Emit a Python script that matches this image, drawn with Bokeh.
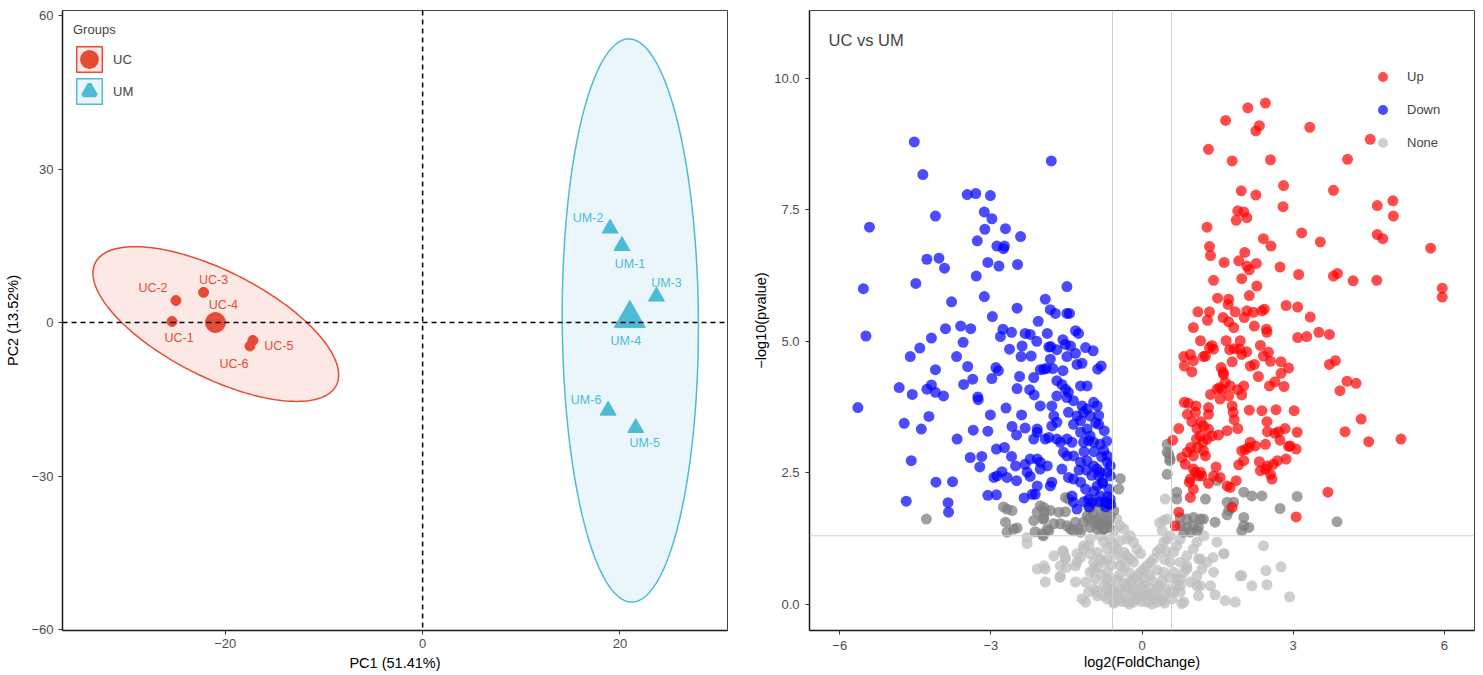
import numpy as np
from bokeh.plotting import figure
from bokeh.layouts import row
from bokeh.models import Span, Legend, LegendItem, FixedTicker, Label, Range1d
from bokeh.embed import file_html
from bokeh.resources import INLINE

FONT = "Liberation Sans"

# ---------------- PCA data ----------------
uc_names = ["UC-1", "UC-2", "UC-3", "UC-4", "UC-5", "UC-6"]
uc_pc1 = [-25.4, -25.0, -22.2, -21.0, -17.2, -17.5]
uc_pc2 = [0.2, 4.3, 5.9, 0.0, -3.5, -4.6]
um_names = ["UM-1", "UM-2", "UM-3", "UM-4", "UM-5", "UM-6"]
um_pc1 = [20.2, 19.0, 23.7, 21.0, 21.6, 18.8]
um_pc2 = [15.0, 18.4, 5.1, 0.8, -20.6, -17.2]
uc_centroid = [-21.0, 0.0]
um_centroid = [21.0, 0.8]
# confidence ellipses: centre and axis matrix (x = cx + a*cos t + b*sin t)
uc_ellipse_center = [-20.96, -0.29]
uc_ellipse_axes = [[12.21, -2.44], [-11.98, -9.23]]
um_ellipse_center = [21.05, 0.4]
um_ellipse_axes = [[6.9, -0.15], [0.0, 55.05]]
pc1_ticks = [-20, 0, 20]
pc2_ticks = [-60, -30, 0, 30, 60]

# label offsets (pixels, +y down) as placed by the repel layout
uc_label_dx = [7, -23, 10, 8, 26, -16]
uc_label_dy = [16, -13, -12, -18, 6, 18]
um_label_dx = [8, -22, 10, -4, 9, -22]
um_label_dy = [18, -10, -13, 23, 15, -11]

# ---------------- Volcano data ----------------
down_pts = [
    (-4.52, 8.79), (-4.35, 8.17), (-3.47, 7.79), (-3.30, 7.81), (-3.01, 7.77), (-1.80, 8.43), (-4.10, 7.38),
    (-5.41, 7.17), (-3.13, 7.46), (-2.98, 7.33), (-3.12, 7.13), (-2.71, 7.14), (-3.27, 6.91), (-2.88, 6.81),
    (-2.73, 6.81), (-2.75, 6.76), (-2.41, 6.99), (-4.27, 6.56), (-4.03, 6.58), (-3.92, 6.39), (-3.06, 6.50),
    (-2.84, 6.43), (-2.47, 6.46), (-3.29, 6.24), (-4.49, 6.10), (-5.53, 6.00), (-3.13, 5.85), (-3.78, 5.75),
    (-2.48, 5.63), (-1.92, 5.80), (-2.97, 5.47), (-5.48, 5.10), (-3.90, 5.24), (-3.60, 5.29), (-3.40, 5.24),
    (-4.18, 5.06), (-2.76, 5.23), (-2.81, 5.09), (-2.59, 5.17), (-2.32, 5.15), (-2.22, 5.13), (-2.06, 5.38),
    (-1.88, 5.15), (-4.41, 4.87), (-4.60, 4.71), (-3.55, 4.98), (-3.68, 4.71), (-2.38, 4.91), (-2.63, 4.85),
    (-2.09, 5.00), (-2.40, 4.71), (-2.20, 4.72), (-1.85, 4.89), (-4.10, 4.46), (-3.46, 4.52), (-2.90, 4.50),
    (-2.85, 4.44), (-2.98, 4.29), (-3.36, 4.28), (-3.54, 4.18), (-2.43, 4.33), (-2.15, 4.31), (-2.02, 4.46),
    (-1.95, 4.47), (-4.82, 4.12), (-4.56, 3.99), (-4.27, 4.09), (-4.18, 4.17), (-4.10, 4.03), (-3.94, 3.96),
    (-3.26, 3.94), (-2.48, 4.10), (-2.23, 4.08), (-2.14, 3.98),
    (-5.64, 3.74), (-3.25, 3.89), (-2.70, 3.73), (-4.72, 3.44), (-4.23, 3.57), (-4.38, 3.33), (-3.67, 3.14),
    (-3.35, 3.31), (-3.06, 3.29), (-3.01, 3.60), (-2.39, 3.60), (-2.58, 3.38), (-2.49, 3.22), (-2.32, 3.35),
    (-2.08, 3.33), (-3.41, 2.79), (-3.18, 2.81), (-3.22, 2.61), (-2.89, 2.95), (-2.73, 2.98), (-4.58, 2.73),
    (-4.09, 2.32), (-3.76, 2.33), (-4.68, 1.96), (-3.85, 1.93), (-3.84, 1.75), (-3.06, 2.07), (-2.89, 2.08),
    (-2.88, 2.44), (-2.78, 2.52), (-2.68, 2.41), (-2.49, 2.35), (-2.59, 2.81), (-2.51, 2.63), (-2.34, 2.02),
    (-1.49, 6.04), (-1.82, 5.60), (-1.72, 5.53), (-1.49, 5.53), (-1.44, 5.53), (-1.32, 5.20), (-1.26, 5.15),
    (-1.57, 5.03), (-1.52, 4.94), (-1.81, 4.90), (-1.69, 4.84), (-1.42, 4.91), (-1.12, 4.88), (-0.97, 4.82),
    (-1.82, 4.66), (-1.49, 4.71), (-1.32, 4.77), (-1.29, 4.56), (-1.19, 4.58), (-1.90, 4.48), (-1.77, 4.48),
    (-1.57, 4.44), (-0.81, 4.53), (-0.88, 4.47), (-1.69, 4.25), (-1.59, 4.18), (-1.52, 4.09), (-1.46, 4.03),
    (-1.69, 3.96), (-1.49, 3.93), (-1.22, 4.15), (-1.09, 4.15), (-2.02, 3.77), (-1.79, 3.77), (-1.36, 3.87),
    (-1.19, 3.77), (-1.09, 3.71), (-0.96, 3.84), (-0.89, 3.77), (-1.75, 3.58), (-1.69, 3.46), (-1.79, 3.39),
    (-1.46, 3.65), (-1.29, 3.58), (-1.22, 3.49), (-1.36, 3.42), (-1.16, 3.65), (-1.03, 3.58), (-0.86, 3.59),
    (-0.86, 3.42), (-2.08, 3.27), (-2.15, 3.14), (-1.92, 3.14), (-1.85, 3.17), (-1.69, 3.14), (-1.62, 3.08),
    (-1.49, 3.14), (-1.39, 3.08), (-1.22, 3.27), (-1.09, 3.33), (-1.03, 3.20), (-1.06, 3.11), (-1.16, 3.08),
    (-0.96, 3.08), (-0.83, 3.04), (-0.76, 2.92), (-0.69, 2.82), (-2.22, 2.76), (-2.08, 2.76), (-2.02, 2.70),
    (-1.88, 2.63), (-2.02, 2.57), (-2.32, 2.66), (-2.28, 2.51), (-2.22, 2.43), (-1.59, 2.57), (-1.56, 2.89),
    (-1.49, 2.82), (-1.36, 2.82), (-1.46, 2.41), (-1.36, 2.38), (-1.22, 2.70), (-1.09, 2.73), (-0.96, 2.63),
    (-0.89, 2.57), (-0.83, 2.51), (-0.69, 2.70), (-2.94, 2.41), (-2.08, 2.25), (-2.12, 2.09), (-1.79, 2.32),
    (-1.82, 2.25), (-2.18, 2.09), (-1.22, 2.32), (-1.12, 2.19), (-1.06, 2.00), (-0.99, 1.94), (-0.89, 2.25),
    (-0.83, 2.06), (-0.73, 1.94), (-0.66, 2.19), (-0.63, 2.44), (-1.39, 2.06), (-1.36, 1.94), (-1.29, 1.81),
    (-0.75, 3.30), (-0.70, 3.10), (-0.80, 2.80), (-0.95, 2.90), (-1.00, 2.45), (-0.78, 2.30), (-0.68, 2.05),
    (-0.72, 1.85), (-0.62, 1.90), (-1.10, 2.55), (-0.92, 3.45), (-1.15, 2.90), (-1.25, 2.55), (-0.95, 2.15),
    (-0.85, 1.95), (-1.05, 1.85), (-1.15, 1.95), (-0.63, 2.00), (-0.66, 1.91), (-0.86, 2.44), (-0.79, 2.32),
    (-0.69, 2.51), (-0.63, 2.63),
]
up_pts = [
    (4.53, 8.84), (2.10, 9.44), (2.45, 9.53), (1.66, 9.20), (2.33, 9.10), (2.26, 9.00), (3.33, 9.07),
    (1.32, 8.65), (1.79, 8.43), (2.55, 8.45), (4.08, 8.46), (1.97, 7.86), (2.26, 7.78), (2.81, 7.96),
    (3.80, 7.87), (2.80, 7.56), (4.67, 7.58), (4.98, 7.67), (4.99, 7.38), (1.90, 7.48), (2.02, 7.46),
    (1.87, 7.30), (2.08, 7.35), (1.29, 7.17), (3.17, 7.06), (3.54, 6.89), (4.67, 7.03), (4.78, 6.95),
    (5.73, 6.77), (2.41, 6.95), (2.56, 6.81), (1.34, 6.80), (1.36, 6.63), (2.04, 6.69), (1.92, 6.53),
    (2.08, 6.43), (2.27, 6.48), (2.13, 6.36), (1.63, 6.50), (2.74, 6.41), (3.11, 6.27), (3.80, 6.24),
    (3.88, 6.29), (4.19, 6.15), (4.66, 6.16), (5.96, 6.01), (5.96, 5.84), (1.42, 6.16), (1.98, 6.19),
    (2.28, 6.05), (1.50, 5.82), (1.72, 5.80), (1.71, 5.70), (2.13, 5.87), (2.86, 5.68), (3.09, 5.65),
    (3.34, 5.46), (1.11, 5.56), (1.34, 5.56), (1.30, 5.40), (1.61, 5.45), (1.72, 5.37), (1.82, 5.26),
    (1.85, 5.56), (2.08, 5.58), (2.21, 5.55), (2.38, 5.58), (2.43, 5.61), (2.03, 5.45), (2.23, 5.29),
    (2.47, 5.23), (2.48, 5.17), (1.02, 5.26), (3.51, 5.17), (3.72, 5.13), (3.09, 5.07), (3.27, 5.09),
    (1.16, 5.01), (1.39, 4.92), (1.34, 4.88), (1.42, 4.85), (1.26, 4.72), (1.22, 4.71), (1.67, 5.01),
    (1.83, 4.86), (1.94, 4.85), (1.74, 4.84), (1.79, 4.61), (1.98, 4.75), (2.08, 4.80), (1.95, 5.01),
    (2.35, 4.92), (2.51, 4.79), (2.41, 4.72), (2.55, 4.62), (0.83, 4.71), (0.96, 4.75), (1.02, 4.63),
    (0.84, 4.53), (0.99, 4.42), (2.15, 4.53), (2.23, 4.56), (2.76, 4.61), (2.91, 4.49), (2.76, 4.39),
    (1.57, 4.50), (1.61, 4.41), (1.62, 4.37), (2.31, 4.33), (2.64, 4.23), (2.53, 4.15), (2.82, 4.14),
    (1.65, 4.22), (1.54, 4.12), (1.59, 4.09), (1.49, 4.09), (1.36, 3.99), (1.75, 4.15), (2.02, 4.15),
    (1.90, 4.08), (1.98, 3.98), (1.72, 3.96), (1.55, 3.90), (0.84, 3.84), (0.92, 3.82), (1.07, 3.77),
    (0.90, 3.61), (1.06, 3.65), (1.32, 3.74), (1.32, 3.61), (1.79, 3.77), (1.81, 3.65), (1.83, 3.51),
    (1.90, 3.34), (2.13, 3.69), (2.38, 3.68), (2.66, 3.70), (3.02, 3.68), (0.99, 3.47), (1.17, 3.47),
    (1.22, 3.39), (1.09, 3.34), (0.73, 3.34), (1.32, 3.33), (1.39, 3.20), (1.29, 3.14), (1.52, 3.22),
    (1.69, 3.30), (2.48, 3.47), (2.49, 3.28), (2.64, 3.25), (2.71, 3.28), (2.84, 3.34), (3.08, 3.27),
    (2.74, 3.12), (0.61, 3.12), (1.08, 3.14), (1.16, 3.20), (1.21, 3.08), (1.10, 2.98), (0.97, 2.98),
    (1.22, 2.92), (1.26, 2.82), (0.90, 2.89), (0.79, 2.79), (0.86, 2.66), (1.02, 2.82), (2.25, 3.01),
    (2.15, 3.08), (2.05, 2.94), (1.98, 2.92), (2.12, 2.98), (2.45, 3.04), (2.91, 3.00), (3.06, 2.95),
    (2.86, 2.76), (2.69, 2.73), (2.02, 2.73), (1.92, 2.65), (2.33, 2.71), (2.35, 2.54), (2.49, 2.63),
    (2.61, 2.66), (2.55, 2.47), (2.45, 2.57), (2.58, 2.38), (1.47, 2.61), (1.02, 2.57), (1.06, 2.51),
    (1.12, 2.44), (1.19, 2.44), (0.96, 2.38), (0.94, 2.32), (1.02, 2.19), (0.96, 2.03), (1.32, 2.30),
    (1.55, 2.41), (1.75, 2.22), (1.87, 2.35), (0.73, 1.75), (1.79, 1.84), (3.72, 4.56), (3.84, 4.63),
    (4.07, 4.24), (4.25, 4.20), (3.93, 4.06), (4.35, 3.52), (4.03, 3.28), (4.50, 3.09), (5.14, 3.14),
    (2.94, 3.01), (3.69, 2.13), (3.06, 1.66), (0.66, 1.49), (1.42, 2.44), (1.69, 2.25), (1.16, 2.51),
]
nonsig_dark_pts = [
    (-4.28, 1.62), (-2.75, 1.85), (-2.68, 1.81), (-2.58, 1.78), (-2.71, 1.56), (-2.68, 1.37), (-2.55, 1.43),
    (-2.48, 1.45), (-2.15, 1.59), (-2.08, 1.75), (-2.02, 1.87), (-1.94, 1.76), (-1.82, 1.78), (-1.95, 1.63),
    (-2.12, 1.38), (-1.98, 1.34), (-1.85, 1.40), (-1.65, 1.75), (-1.62, 1.53), (-1.52, 1.76), (-1.49, 1.49),
    (-1.42, 1.43), (-1.36, 1.40), (-1.32, 1.56), (-1.52, 2.03), (-1.46, 2.00), (-1.26, 1.43), (-1.16, 1.56),
    (-1.09, 1.68), (-1.03, 1.81), (-0.96, 1.71), (-0.89, 1.62), (-0.83, 1.49), (-0.76, 1.43), (-0.69, 1.52),
    (-0.63, 1.68), (-0.56, 1.78), (-1.95, 1.84), (-1.96, 1.62), (-1.88, 1.43), (-1.96, 1.30), (-1.75, 1.53),
    (-1.22, 1.37), (-1.03, 2.00), (-0.96, 1.91), (-0.86, 1.87), (-0.76, 1.91), (-0.83, 1.68), (-0.73, 1.75),
    (-1.06, 1.62), (-0.96, 1.56), (-0.86, 1.53), (-0.76, 1.56), (-0.66, 1.59), (-1.03, 1.46), (-0.89, 1.43),
    (-0.76, 1.43), (-0.66, 1.46), (-0.43, 2.39), (-0.46, 2.19), (0.50, 3.04), (0.53, 2.85), (0.55, 2.73),
    (0.50, 2.47), (0.69, 2.13), (0.69, 2.00), (1.49, 2.35), (1.26, 2.00), (1.69, 1.94), (1.82, 1.94),
    (1.72, 1.78), (1.69, 1.70), (2.02, 2.13), (2.18, 2.06), (2.38, 2.06), (2.02, 1.65), (2.02, 1.49),
    (1.98, 1.40), (2.12, 1.46), (2.74, 1.82), (3.08, 2.05), (1.45, 1.56), (0.76, 1.65), (0.89, 1.62),
    (1.02, 1.65), (1.16, 1.62), (0.76, 1.49), (0.89, 1.46), (1.02, 1.49), (1.12, 1.46), (0.83, 1.37),
    (0.96, 1.37), (1.09, 1.40), (1.22, 1.62), (0.50, 2.89), (0.56, 2.76), (3.87, 1.57),
]
none_pts = [
    (-2.28, 1.27), (-2.28, 1.15), (-2.08, 0.67), (-1.92, 0.67), (-1.92, 0.42), (-1.63, 0.51), (-1.57, 1.02),
    (-1.52, 0.86), (-1.32, 0.42), (-1.50, 0.70), (-1.12, 0.04), (-1.06, 0.23), (-1.29, 0.80), (-1.16, 1.11),
    (-1.03, 1.24), (-0.89, 0.99), (-0.96, 0.67), (-0.76, 0.80), (-0.69, 0.48), (-0.56, 0.29), (-0.89, 0.16),
    (-0.69, 0.10), (-0.56, 0.02), (-1.95, 0.73), (-1.62, 0.54), (-1.56, 0.99), (-1.52, 0.89), (-1.29, 0.96),
    (-1.32, 0.73), (-1.22, 0.89), (-1.16, 1.05), (-1.06, 1.11), (-1.03, 0.96), (-0.96, 0.80), (-0.89, 0.70),
    (-0.83, 0.86), (-1.03, 0.61), (-0.93, 0.48), (-1.12, 0.42), (-1.19, 0.10), (-0.89, 0.23), (-0.76, 0.16),
    (-0.69, 0.29), (-0.63, 0.42), (-0.56, 0.23), (-0.50, 0.16), (-0.43, 0.10), (-0.36, 0.23), (-0.30, 0.35),
    (-0.23, 0.42), (-0.17, 0.48), (-0.10, 0.54), (-0.03, 0.61), (0.03, 0.67), (0.10, 0.73), (0.17, 0.80),
    (0.23, 0.86), (0.30, 0.99), (0.36, 1.05), (0.43, 1.18), (0.50, 1.24), (0.56, 1.30), (-0.43, 0.73),
    (-0.50, 1.05), (-0.36, 0.99), (-0.30, 0.92), (-0.23, 0.86), (-0.17, 0.80), (-0.63, 1.24), (-0.56, 1.11),
    (-0.69, 1.05), (-0.76, 1.18), (-0.83, 1.30), (-0.50, 1.62), (-0.43, 1.49), (-0.36, 1.43), (-0.23, 1.30),
    (-0.30, 1.24), (-0.17, 1.18), (-0.10, 1.05), (-0.03, 0.96), (0.03, 0.35), (0.10, 0.23), (0.17, 0.16),
    (0.23, 0.10), (0.30, 0.04), (0.36, 0.10), (0.43, 0.16), (0.50, 0.29), (0.63, 0.23), (0.69, 0.35),
    (0.76, 0.48), (0.83, 0.61), (0.89, 0.73), (0.63, 0.61), (0.56, 0.80), (0.63, 0.99), (0.69, 1.11),
    (0.76, 1.24), (1.02, 1.05), (1.16, 0.86), (1.29, 0.80), (1.42, 0.61), (1.62, 0.96), (1.95, 0.54),
    (1.09, 0.35), (0.83, 0.04), (0.76, 0.35), (1.09, 0.54), (0.43, 0.61), (-0.50, 0.48), (-0.69, 0.61),
    (-0.76, 0.35), (-0.23, 0.16), (-0.10, 0.10), (-0.03, 0.16), (-0.17, 0.04), (0.10, 0.04), (-0.30, 0.04),
    (-0.43, 0.29), (-0.56, 0.04), (-0.96, 0.29), (-1.62, 0.73), (-1.75, 0.92), (0.46, 2.00), (0.50, 1.62),
    (0.43, 1.59), (2.41, 1.11), (1.49, 1.18), (1.63, 0.96), (1.41, 0.89), (1.12, 0.86), (1.19, 0.67),
    (1.98, 0.54), (2.18, 0.35), (2.46, 0.64), (2.48, 0.37), (2.76, 0.71), (2.93, 0.14), (1.65, 0.07),
    (1.85, 0.04), (1.45, 0.18), (1.12, 0.16), (1.16, 0.35), (1.36, 0.35), (0.79, 0.01), (0.76, 0.23),
    (0.56, 0.23), (0.40, 0.07), (0.69, 0.48), (0.96, 0.42), (0.89, 0.67), (0.76, 0.80), (0.89, 0.92),
    (1.09, 1.18), (1.23, 1.30), (-0.40, 0.05), (-0.20, 0.25), (0.00, 0.05), (0.05, 0.20), (0.15, 0.30),
    (0.25, 0.20), (0.35, 0.35), (-0.35, 0.40), (-0.15, 0.30), (-0.05, 0.40), (0.20, 0.45), (0.40, 0.45),
    (-0.45, 0.55), (-0.25, 0.60), (0.15, 0.55), (0.30, 0.65), (-0.60, 0.75), (-0.40, 0.85), (0.45, 0.85),
    (0.50, 1.00), (-0.55, 0.95), (-0.70, 0.85), (0.55, 0.50), (0.60, 0.10), (-0.80, 0.55), (0.00, 0.30),
    (-0.10, 0.20), (0.20, 0.00), (-0.25, 0.00), (0.45, 0.02), (-0.65, 0.20), (0.05, 0.50), (-0.35, 0.70),
    (0.30, 0.30), (-0.45, 1.20), (0.40, 1.40), (-0.55, 1.40), (0.35, 1.55),
]
fc_cut = 0.585   # log2(1.5)
p_cut = 1.301    # -log10(0.05)
lfc_ticks = [-6, -3, 0, 3, 6]
logp_ticks = [0, 2.5, 5, 7.5, 10]

UC_COL = "#E64B35"
UM_COL = "#4DBBD5"
UC_FILL = "#FCE9E6"
UM_FILL = "#EAF6FA"
TICK_COL = "#4D4D4D"
NAN = [float("nan")]


def style_axes(p):
    for ax in (p.xaxis[0], p.yaxis[0]):
        ax.axis_line_color = "#1a1a1a"
        ax.axis_line_width = 1.5
        ax.major_tick_line_color = "#333333"
        ax.major_tick_in = 0
        ax.major_tick_out = 4
        ax.minor_tick_line_color = None
        ax.major_label_text_font = FONT
        ax.major_label_text_font_size = "13px"
        ax.major_label_text_color = TICK_COL
        ax.axis_label_text_font = FONT
        ax.axis_label_text_font_size = "14.5px"
        ax.axis_label_text_font_style = "normal"
        ax.axis_label_text_color = "black"
    p.xgrid.visible = False
    p.ygrid.visible = False
    p.outline_line_color = "#444444"
    p.outline_line_width = 1


# ---------------- Panel a: PCA ----------------
p1 = figure(width=740, height=675, output_backend="svg", toolbar_location=None,
            x_range=Range1d(-36.5, 30.9), y_range=Range1d(-60.2, 61.0),
            min_border_left=62, min_border_right=13, min_border_top=10, min_border_bottom=45,
            x_axis_label="PC1 (51.41%)", y_axis_label="PC2 (13.52%)")
style_axes(p1)
p1.xaxis.ticker = FixedTicker(ticks=pc1_ticks)
p1.yaxis.ticker = FixedTicker(ticks=pc2_ticks)
p1.xaxis.major_label_overrides = {t: str(t).replace("-", "\u2212") for t in pc1_ticks}
p1.yaxis.major_label_overrides = {t: str(t).replace("-", "\u2212") for t in pc2_ticks}
p1.xaxis.major_label_standoff = 4
p1.xaxis.axis_label_standoff = 4
p1.yaxis.major_label_standoff = 5
p1.yaxis.axis_label_standoff = 7

t = np.linspace(0, 2 * np.pi, 240)
for cen, axm, fill, col in ((uc_ellipse_center, uc_ellipse_axes, UC_FILL, UC_COL),
                            (um_ellipse_center, um_ellipse_axes, UM_FILL, UM_COL)):
    ex = cen[0] + axm[0][0] * np.cos(t) + axm[0][1] * np.sin(t)
    ey = cen[1] + axm[1][0] * np.cos(t) + axm[1][1] * np.sin(t)
    p1.patch(ex, ey, fill_color=fill, fill_alpha=1.0, line_color=col, line_width=1.5)

p1.add_layout(Span(location=0, dimension="height", line_color="black", line_width=1.5, line_dash="5 4"))
p1.add_layout(Span(location=0, dimension="width", line_color="black", line_width=1.5, line_dash="5 4"))

p1.scatter(uc_pc1, uc_pc2, marker="circle", size=10, fill_color=UC_COL, line_color=UC_COL)
p1.scatter([uc_centroid[0]], [uc_centroid[1]], marker="circle", size=20, fill_color=UC_COL, line_color=UC_COL)
p1.scatter(um_pc1, um_pc2, marker="triangle", size=16, fill_color=UM_COL, line_color=UM_COL)
p1.scatter([um_centroid[0]], [um_centroid[1]], marker="triangle", size=31, fill_color=UM_COL, line_color=UM_COL)

p1.text(uc_pc1, uc_pc2, text=uc_names, x_offset=uc_label_dx, y_offset=uc_label_dy,
        text_align="center", text_baseline="middle", text_color=UC_COL,
        text_font={"value": FONT}, text_font_size="12.5px")
p1.text(um_pc1, um_pc2, text=um_names, x_offset=um_label_dx, y_offset=um_label_dy,
        text_align="center", text_baseline="middle", text_color=UM_COL,
        text_font={"value": FONT}, text_font_size="12.5px")

# legend-only renderers (NaN data, nothing drawn in the plot area)
box_uc = p1.quad(left=NAN, right=NAN, top=NAN, bottom=NAN, fill_color=UC_FILL, line_color=UC_COL, line_width=1.5)
dot_uc = p1.scatter(x=NAN, y=NAN, marker="circle", fill_color=UC_COL, line_color=UC_COL, line_width=6, size=12)
box_um = p1.quad(left=NAN, right=NAN, top=NAN, bottom=NAN, fill_color=UM_FILL, line_color=UM_COL, line_width=1.5)
tri_um = p1.scatter(x=NAN, y=NAN, marker="triangle", fill_color=UM_COL, line_color=UM_COL, line_width=4, size=13)
leg1 = Legend(items=[LegendItem(label="UC", renderers=[box_uc, dot_uc]),
                     LegendItem(label="UM", renderers=[box_um, tri_um])],
              title="Groups", location=(11, 523), glyph_width=32, glyph_height=32, spacing=0,
              padding=0, margin=0, label_standoff=8, title_standoff=6,
              border_line_alpha=0, background_fill_alpha=0,
              label_text_font=FONT, label_text_font_size="13px",
              title_text_font=FONT, title_text_font_size="13px", title_text_font_style="normal")
p1.add_layout(leg1)
p1.add_layout(Label(x=19, y=27, x_units="canvas", y_units="canvas", text="a",
                    text_align="center", text_baseline="middle", text_font=FONT,
                    text_font_size="15px", text_font_style="bold"))

# ---------------- Panel b: volcano ----------------
p2 = figure(width=743, height=675, output_backend="svg", toolbar_location=None,
            x_range=Range1d(-6.6, 6.6), y_range=Range1d(-0.5, 11.29),
            min_border_left=69, min_border_right=9, min_border_top=10, min_border_bottom=43,
            x_axis_label="log2(FoldChange)", y_axis_label="\u2212log10(pvalue)")
style_axes(p2)
p2.xaxis.ticker = FixedTicker(ticks=lfc_ticks)
p2.yaxis.ticker = FixedTicker(ticks=logp_ticks)
p2.xaxis.major_label_overrides = {t: str(t).replace("-", "\u2212") for t in lfc_ticks}
p2.yaxis.major_label_overrides = {t: f"{t:.1f}" for t in logp_ticks}
p2.xaxis.major_label_standoff = 6
p2.xaxis.axis_label_standoff = 1
p2.yaxis.major_label_standoff = 6
p2.yaxis.axis_label_standoff = 2

for loc in (-fc_cut, fc_cut):
    p2.add_layout(Span(location=loc, dimension="height", line_color="#CFCFCF", line_width=1))
p2.add_layout(Span(location=p_cut, dimension="width", line_color="#CFCFCF", line_width=1))

PT = 11
r_none = p2.scatter([q[0] for q in none_pts], [q[1] for q in none_pts], size=PT,
                    fill_color="#BEBEBE", fill_alpha=0.75, line_alpha=0)
p2.scatter([q[0] for q in nonsig_dark_pts], [q[1] for q in nonsig_dark_pts], size=PT,
           fill_color="#808080", fill_alpha=0.75, line_alpha=0)
r_down = p2.scatter([q[0] for q in down_pts], [q[1] for q in down_pts], size=PT,
                    fill_color="#0000FF", fill_alpha=0.7, line_alpha=0)
r_up = p2.scatter([q[0] for q in up_pts], [q[1] for q in up_pts], size=PT,
                  fill_color="#FF0000", fill_alpha=0.7, line_alpha=0)

leg2 = Legend(items=[LegendItem(label="Up", renderers=[r_up]),
                     LegendItem(label="Down", renderers=[r_down]),
                     LegendItem(label="None", renderers=[r_none])],
              location=(561, 475), glyph_width=25, glyph_height=25, spacing=8,
              padding=0, margin=0, label_standoff=12,
              border_line_alpha=0, background_fill_alpha=0,
              label_text_font=FONT, label_text_font_size="13px")
p2.add_layout(leg2)
p2.add_layout(Label(x=17, y=27, x_units="canvas", y_units="canvas", text="b",
                    text_align="center", text_baseline="middle", text_font=FONT,
                    text_font_size="15px", text_font_style="bold"))
p2.add_layout(Label(x=88, y=39, x_units="canvas", y_units="canvas", text="UC vs UM",
                    text_align="left", text_baseline="middle", text_font=FONT,
                    text_font_size="16.5px"))

layout = row(p1, p2)
open("out.html", "w").write(file_html(layout, INLINE))
